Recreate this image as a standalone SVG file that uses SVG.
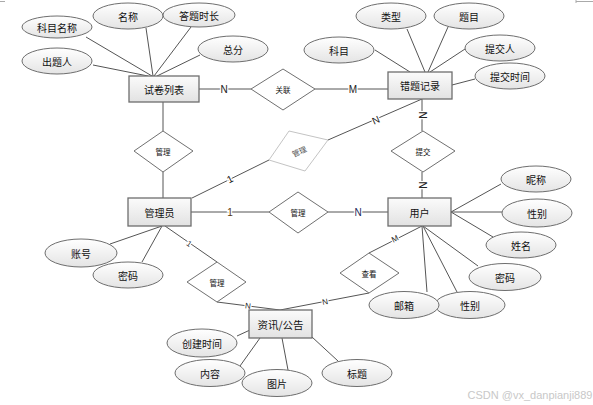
<svg xmlns="http://www.w3.org/2000/svg" width="593" height="405" viewBox="0 0 593 405">
<defs>
<linearGradient id="gE" x1="0" y1="0" x2="0" y2="1"><stop offset="0" stop-color="#ffffff"/><stop offset="1" stop-color="#e4e4e4"/></linearGradient>
<linearGradient id="gR" x1="0" y1="0" x2="0" y2="1"><stop offset="0" stop-color="#fbfbfb"/><stop offset="1" stop-color="#e2e2e2"/></linearGradient>
<style>
.ent rect{fill:url(#gR);stroke:#6e6e6e;stroke-width:1.3}
.att ellipse{fill:url(#gE);stroke:#6e6e6e;stroke-width:1}
.rel polygon{fill:#ffffff;stroke:#707070;stroke-width:1}
text{font-family:"Noto Sans CJK SC","Liberation Sans",sans-serif;fill:#111;text-anchor:middle;dominant-baseline:central}
.te{font-size:10px}
.ta{font-size:10px}
.tr{font-size:7.5px}
#conn line{stroke:#555;stroke-width:1}
.lb{font-family:"Liberation Sans",sans-serif;font-size:10px;stroke:#fff;stroke-width:2.5;paint-order:stroke;fill:#222}
</style>
</defs>
<rect width="593" height="405" fill="#fff"/>
<path d="M0 1.5H5M576 1.5H593M576 0V3" stroke="#aaa" stroke-width="1" fill="none"/>
<g id="conn">
<line x1="86" y1="37" x2="152" y2="76"/>
<line x1="146" y1="28" x2="153" y2="76"/>
<line x1="191" y1="27" x2="154" y2="76"/>
<line x1="200" y1="55" x2="157" y2="76"/>
<line x1="93" y1="65" x2="148" y2="76"/>
<line x1="199" y1="89" x2="251" y2="89"/>
<line x1="315" y1="89" x2="388" y2="89"/>
<line x1="375" y1="50" x2="410" y2="72"/>
<line x1="407" y1="29" x2="425" y2="72"/>
<line x1="448" y1="27" x2="428" y2="72"/>
<line x1="465" y1="49" x2="430" y2="72"/>
<line x1="475" y1="79" x2="452" y2="85"/>
<line x1="163" y1="102" x2="163" y2="131"/>
<line x1="163" y1="172" x2="163" y2="198"/>
<line x1="192" y1="198" x2="269" y2="160"/>
<line x1="328" y1="140" x2="422" y2="99"/>
<line x1="422" y1="99" x2="422" y2="131"/>
<line x1="422" y1="172" x2="422" y2="198"/>
<line x1="191" y1="212" x2="269" y2="212"/>
<line x1="328" y1="212" x2="388" y2="212"/>
<line x1="451" y1="212" x2="501" y2="184"/>
<line x1="451" y1="212" x2="502" y2="212"/>
<line x1="451" y1="212" x2="493" y2="237"/>
<line x1="422" y1="226" x2="427" y2="292"/>
<line x1="423" y1="226" x2="457" y2="292"/>
<line x1="423" y1="226" x2="478" y2="266"/>
<line x1="422" y1="226" x2="369" y2="253"/>
<line x1="369" y1="293" x2="280" y2="310"/>
<line x1="162" y1="226" x2="110" y2="244"/>
<line x1="162" y1="226" x2="142" y2="262"/>
<line x1="165" y1="226" x2="217" y2="262"/>
<line x1="217" y1="302" x2="280" y2="310"/>
<line x1="237" y1="336" x2="250" y2="330"/>
<line x1="240" y1="366" x2="260" y2="338"/>
<line x1="288" y1="370" x2="282" y2="338"/>
<line x1="338" y1="361" x2="312" y2="337"/>
<text class="lb" x="224" y="89">N</text>
<text class="lb" x="353" y="89">M</text>
<text class="lb" x="230" y="179" transform="rotate(-27 230 179)">1</text>
<text class="lb" x="376" y="120" transform="rotate(-24 376 120)">N</text>
<text class="lb" x="422" y="115" transform="rotate(90 422 115)">N</text>
<text class="lb" x="422" y="185" transform="rotate(90 422 185)">N</text>
<text class="lb" x="230" y="212" style="fill:#5a3a10">1</text>
<text class="lb" x="358" y="212" style="fill:#1a2a5a">N</text>
<text class="lb" x="395" y="239" style="font-size:8px" transform="rotate(-27 395 239)">M</text>
<text class="lb" x="325" y="302" style="font-size:8px" transform="rotate(-11 325 302)">N</text>
<text class="lb" x="189" y="244" style="font-size:8px" transform="rotate(35 189 244)">1</text>
<text class="lb" x="248" y="306" style="font-size:8px" transform="rotate(7 248 306)">N</text>
</g>
<g id="e_shijuan" class="ent"><rect x="129" y="76" width="70" height="26"/><text class="te" x="164" y="89">试卷列表</text></g>
<g id="e_cuoti" class="ent"><rect x="388" y="72" width="64" height="27"/><text class="te" x="420" y="85.5">错题记录</text></g>
<g id="e_admin" class="ent"><rect x="128" y="198" width="63" height="28"/><text class="te" x="159.5" y="212">管理员</text></g>
<g id="e_user" class="ent"><rect x="388" y="198" width="63" height="28"/><text class="te" x="419.5" y="212">用户</text></g>
<g id="e_news" class="ent"><rect x="249" y="310" width="63" height="28"/><text class="te" x="280.5" y="324" style="font-size:10.5px">资讯/公告</text></g>
<g id="a_kmmc" class="att"><ellipse cx="57" cy="27" rx="35" ry="11"/><text class="ta" x="57" y="27">科目名称</text></g>
<g id="a_mc" class="att"><ellipse cx="128" cy="16" rx="35" ry="13"/><text class="ta" x="128" y="16">名称</text></g>
<g id="a_dtsc" class="att"><ellipse cx="199" cy="15" rx="36" ry="12"/><text class="ta" x="199" y="15">答题时长</text></g>
<g id="a_zf" class="att"><ellipse cx="233" cy="49" rx="35" ry="13"/><text class="ta" x="233" y="49">总分</text></g>
<g id="a_ctr" class="att"><ellipse cx="57" cy="61" rx="35" ry="13"/><text class="ta" x="57" y="61">出题人</text></g>
<g id="a_km" class="att"><ellipse cx="339" cy="50" rx="35" ry="13"/><text class="ta" x="339" y="50">科目</text></g>
<g id="a_lx" class="att"><ellipse cx="391" cy="16" rx="35" ry="13"/><text class="ta" x="391" y="16">类型</text></g>
<g id="a_tm" class="att"><ellipse cx="469" cy="16" rx="35" ry="13"/><text class="ta" x="469" y="16">题目</text></g>
<g id="a_tjr" class="att"><ellipse cx="500" cy="48" rx="35" ry="13"/><text class="ta" x="500" y="48">提交人</text></g>
<g id="a_tjsj" class="att"><ellipse cx="510" cy="76" rx="35" ry="13"/><text class="ta" x="510" y="76">提交时间</text></g>
<g id="a_zh" class="att"><ellipse cx="81" cy="253" rx="36" ry="14"/><text class="ta" x="81" y="253">账号</text></g>
<g id="a_mm1" class="att"><ellipse cx="128" cy="275" rx="35" ry="13"/><text class="ta" x="128" y="275">密码</text></g>
<g id="a_nc" class="att"><ellipse cx="536" cy="179" rx="35" ry="13"/><text class="ta" x="536" y="179">昵称</text></g>
<g id="a_xb1" class="att"><ellipse cx="537" cy="213" rx="35" ry="14"/><text class="ta" x="537" y="213">性别</text></g>
<g id="a_xm" class="att"><ellipse cx="521" cy="245" rx="35" ry="13"/><text class="ta" x="521" y="245">姓名</text></g>
<g id="a_mm2" class="att"><ellipse cx="505" cy="277" rx="36" ry="13.5"/><text class="ta" x="505" y="277">密码</text></g>
<g id="a_xb2" class="att"><ellipse cx="470" cy="305" rx="35" ry="13.5"/><text class="ta" x="470" y="305">性别</text></g>
<g id="a_yx" class="att"><ellipse cx="404" cy="305" rx="35" ry="13.5"/><text class="ta" x="404" y="305">邮箱</text></g>
<g id="a_cjsj" class="att"><ellipse cx="202" cy="343" rx="35" ry="14"/><text class="ta" x="202" y="343">创建时间</text></g>
<g id="a_nr" class="att"><ellipse cx="210" cy="373" rx="35" ry="13.5"/><text class="ta" x="210" y="373">内容</text></g>
<g id="a_tp" class="att"><ellipse cx="277" cy="383" rx="35" ry="13.5"/><text class="ta" x="277" y="383">图片</text></g>
<g id="a_bt" class="att"><ellipse cx="357" cy="373" rx="35" ry="13.5"/><text class="ta" x="357" y="373">标题</text></g>
<g id="r_guanlian" class="rel"><polygon points="283,69 315,89 283,110 251,89"/><text class="tr" x="283" y="89">关联</text></g>
<g id="r_gl1" class="rel"><polygon points="163,131 193,151 163,172 134,151"/><text class="tr" x="163" y="151">管理</text></g>
<g id="r_gl2" class="rel"><polygon points="289,131 328,140 305,171 269,160" style="stroke:#c4c4c4"/><text class="tr" x="299" y="151" style="fill:#555" transform="rotate(-25 299 151)">管理</text></g>
<g id="r_gl3" class="rel"><polygon points="298,192 328,212 298,233 269,212"/><text class="tr" x="298" y="212">管理</text></g>
<g id="r_tj" class="rel"><polygon points="423,131 455,151 423,172 391,151"/><text class="tr" x="423" y="151">提交</text></g>
<g id="r_gl4" class="rel"><polygon points="217,262 246,282 217,302 187,282"/><text class="tr" x="217" y="282">管理</text></g>
<g id="r_ck" class="rel"><polygon points="369,253 399,273 369,293 340,273"/><text class="tr" x="369" y="273">查看</text></g>
<text x="530" y="395" style="font-family:'Liberation Sans',sans-serif;font-size:11px;fill:#c8c8c8">CSDN @vx_danpianji889</text>
</svg>
